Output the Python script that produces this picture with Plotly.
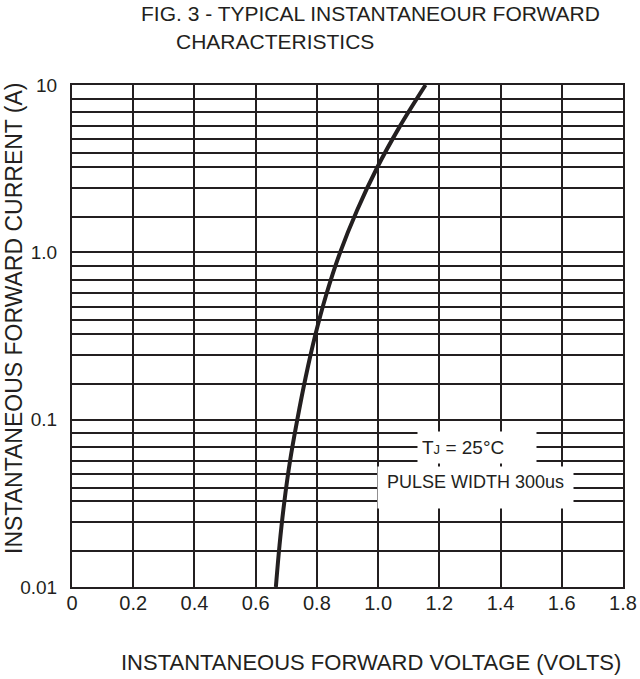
import plotly.graph_objects as go

# Curve: instantaneous forward voltage (V) vs forward current (A)
voltage = [0.666, 0.678, 0.693, 0.712, 0.736, 0.763, 0.794, 0.831, 0.876,
           0.931, 0.995, 1.070, 1.155]
current = [0.010, 0.0178, 0.0316, 0.0562, 0.100, 0.178, 0.316, 0.562, 1.00,
           1.78, 3.16, 5.62, 10.0]

x_ticks = [0, 0.2, 0.4, 0.6, 0.8, 1.0, 1.2, 1.4, 1.6, 1.8]
x_tick_labels = ["0", "0.2", "0.4", "0.6", "0.8", "1.0", "1.2", "1.4", "1.6", "1.8"]

# Horizontal grid lines as drawn on the datasheet (stylised log paper)
decade_tops = [10, 1, 0.1]
decade_fractions = [0, 0.081, 0.163, 0.244, 0.325, 0.406, 0.488, 0.614, 0.786]
decade_labels = ["10", "1.0", "0.1"]
bottom_value = 0.01
bottom_label = "0.01"

y_ticks, y_tick_labels = [], []
for top, lab in zip(decade_tops, decade_labels):
    for i, f in enumerate(decade_fractions):
        y_ticks.append(top * 10 ** (-f))
        y_tick_labels.append(lab if i == 0 else "")
y_ticks.append(bottom_value)
y_tick_labels.append(bottom_label)

INK = "#231f20"
FONT = "Liberation Sans, Arial, sans-serif"

fig = go.Figure()
fig.add_trace(go.Scatter(x=voltage, y=current, mode="lines",
                         line=dict(color=INK, width=4, shape="spline", smoothing=1),
                         showlegend=False, hoverinfo="skip"))

W, H = 640, 679
PL, PR, PT, PB = 72, 623, 85, 587          # plot area in pixels
L, R, T, B = PL, W - PR, PT, H - PB

fig.update_layout(
    width=W, height=H,
    margin=dict(l=L, r=R, t=T, b=B, autoexpand=False),
    paper_bgcolor="white", plot_bgcolor="white",
    font=dict(family=FONT, color=INK),
    xaxis=dict(range=[0, 1.8], tickvals=x_ticks, ticktext=x_tick_labels,
               showgrid=True, gridcolor=INK, gridwidth=2, automargin=False,
               showline=True, linecolor=INK, linewidth=2, mirror=True,
               ticks="", zeroline=False, tickfont=dict(size=20, color=INK),
               ticklabelstandoff=-3),
    yaxis=dict(type="log", range=[-2, 1], tickvals=y_ticks, ticktext=y_tick_labels,
               showgrid=True, gridcolor=INK, gridwidth=2, automargin=False,
               showline=True, linecolor=INK, linewidth=2, mirror=True,
               ticks="", zeroline=False, tickfont=dict(size=19, color=INK),
               ticklabelstandoff=9),
)

pw, ph = PR - PL, PB - PT

def px(x):
    return (x - PL) / pw

def py(y):
    return (PB - y) / ph

ann = [
    dict(text="FIG. 3 - TYPICAL INSTANTANEOUR FORWARD", x=px(371), y=py(14),
         xanchor="center", yanchor="middle", font=dict(size=21), borderpad=0),
    dict(text="CHARACTERISTICS", x=px(175), y=py(41.5),
         xanchor="left", yanchor="middle", font=dict(size=21), borderpad=0),
    dict(text="INSTANTANEOUS FORWARD CURRENT (A)", x=px(14), y=py(318),
         textangle=-90, xanchor="center", yanchor="middle", font=dict(size=23)),
    dict(text="INSTANTANEOUS FORWARD VOLTAGE (VOLTS)", x=px(371), y=py(662),
         xanchor="center", yanchor="middle", font=dict(size=22)),
    dict(text="T<span style='font-size:13px'>J</span> = 25°C", x=px(477), y=py(447.5),
         xanchor="center", yanchor="middle", font=dict(size=19),
         width=110, height=23, align="left", bgcolor="white", borderpad=4),
    dict(text="PULSE WIDTH 300us", x=px(475.5), y=py(487.5),
         xanchor="center", yanchor="middle", font=dict(size=18),
         width=185, height=31, align="center", valign="top",
         bgcolor="white", borderpad=5),
]
for a in ann:
    a.update(xref="paper", yref="paper", showarrow=False)
fig.update_layout(annotations=ann)

fig.write_html("out.html", config={"displayModeBar": False},
               post_script="document.body.style.margin='0';document.body.style.overflow='hidden';")
